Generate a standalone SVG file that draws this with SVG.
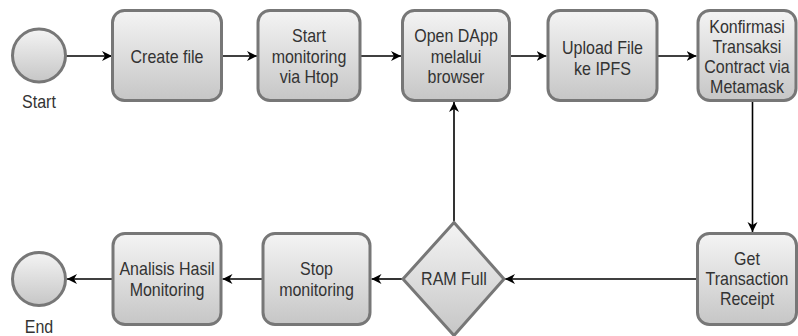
<svg xmlns="http://www.w3.org/2000/svg" width="798" height="336" viewBox="0 0 798 336">
<defs>
<linearGradient id="g" x1="0" y1="0" x2="0" y2="1">
<stop offset="0" stop-color="#f4f4f4"/>
<stop offset="1" stop-color="#c6c6c6"/>
</linearGradient>
<marker id="arr" markerUnits="userSpaceOnUse" markerWidth="12" markerHeight="12" refX="10" refY="5" orient="auto">
<path d="M0,0 L10,5 L0,10 L3,5 z" fill="#000"/>
</marker>
</defs>
<style>
.n{fill:url(#g);stroke:#777;stroke-width:3}
.t{font-family:"Liberation Sans",Arial,sans-serif;font-size:18px;fill:#333;text-anchor:middle}
.c{fill:none;stroke:#000;stroke-width:1.6;marker-end:url(#arr)}
</style>
<rect width="798" height="336" fill="#fff"/>
<g id="connectors">
<line class="c" x1="66" y1="56" x2="112" y2="56"/>
<line class="c" x1="221" y1="56" x2="257" y2="56"/>
<line class="c" x1="361" y1="56" x2="401" y2="56"/>
<line class="c" x1="511" y1="56" x2="546.5" y2="56"/>
<line class="c" x1="658" y1="56" x2="696.5" y2="56"/>
<line class="c" x1="752.5" y1="101" x2="752.5" y2="232"/>
<line class="c" x1="696" y1="279" x2="505" y2="279"/>
<line class="c" x1="402" y1="279" x2="371.5" y2="279"/>
<line class="c" x1="262" y1="279" x2="222.5" y2="279"/>
<line class="c" x1="112" y1="279" x2="67" y2="279"/>
<line class="c" x1="454" y1="221" x2="454" y2="102"/>
</g>
<g id="start">
<circle class="n" cx="39" cy="55.5" r="26.5"/>
<text class="t" transform="scale(0.89 1)" x="43.82" y="108">Start</text>
</g>
<g id="create-file">
<rect class="n" x="112.5" y="10.5" width="109" height="90" rx="12"/>
<text class="t" transform="scale(0.89 1)" x="187.64" y="63">Create file</text>
</g>
<g id="start-monitoring">
<rect class="n" x="258" y="10.5" width="102" height="90" rx="12"/>
<text class="t" transform="scale(0.89 1)"><tspan x="347.19" y="42.5">Start</tspan><tspan x="347.19" y="63">monitoring</tspan><tspan x="347.19" y="83.5">via Htop</tspan></text>
</g>
<g id="open-dapp">
<rect class="n" x="402.5" y="10.5" width="107" height="90" rx="12"/>
<text class="t" transform="scale(0.89 1)"><tspan x="512.36" y="42.5">Open DApp</tspan><tspan x="512.36" y="63">melalui</tspan><tspan x="512.36" y="83.5">browser</tspan></text>
</g>
<g id="upload-file">
<rect class="n" x="548" y="10.5" width="109" height="90" rx="12"/>
<text class="t" transform="scale(0.89 1)"><tspan x="676.97" y="54.5">Upload File</tspan><tspan x="676.97" y="75">ke IPFS</tspan></text>
</g>
<g id="konfirmasi">
<rect class="n" x="698" y="10.5" width="98" height="90" rx="12"/>
<text class="t" transform="scale(0.89 1)"><tspan x="839.33" y="33.5">Konfirmasi</tspan><tspan x="839.33" y="53.5">Transaksi</tspan><tspan x="839.33" y="73.5">Contract via</tspan><tspan x="839.33" y="93.5">Metamask</tspan></text>
</g>
<g id="get-receipt">
<rect class="n" x="697.5" y="233.5" width="99" height="91" rx="12"/>
<text class="t" transform="scale(0.89 1)"><tspan x="839.33" y="265">Get</tspan><tspan x="839.33" y="285">Transaction</tspan><tspan x="839.33" y="305.5">Receipt</tspan></text>
</g>
<g id="ram-full">
<polygon class="n" points="454,222.5 504,279 454,335.5 403,279"/>
<text class="t" transform="scale(0.89 1)" x="510.11" y="285.5">RAM Full</text>
</g>
<g id="stop-monitoring">
<rect class="n" x="263" y="233.5" width="107" height="91" rx="12"/>
<text class="t" transform="scale(0.89 1)"><tspan x="355.62" y="275.5">Stop</tspan><tspan x="355.62" y="296">monitoring</tspan></text>
</g>
<g id="analisis">
<rect class="n" x="113" y="233.5" width="108" height="91" rx="12"/>
<text class="t" transform="scale(0.89 1)"><tspan x="187.64" y="275.5">Analisis Hasil</tspan><tspan x="187.64" y="296">Monitoring</tspan></text>
</g>
<g id="end">
<circle class="n" cx="39" cy="279" r="26.5"/>
<text class="t" transform="scale(0.89 1)" x="43.82" y="333">End</text>
</g>
</svg>
